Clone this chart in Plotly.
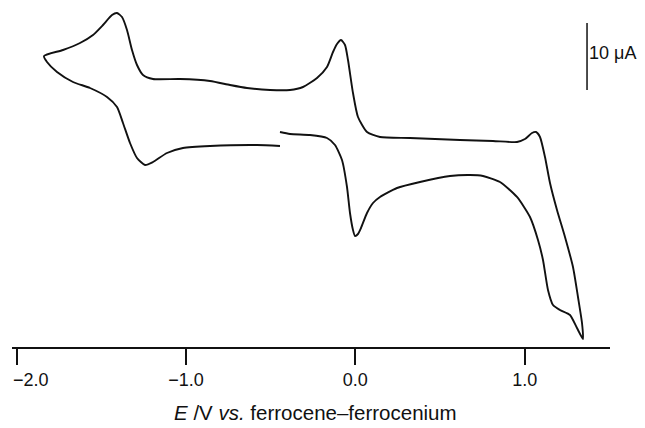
import plotly.graph_objects as go

# Cyclic voltammogram: potential (V vs Fc/Fc+) and current (uA, arbitrary zero)
E_V = [-0.4445, -0.3855, -0.2674, -0.1671, -0.1198, -0.0785, -0.0490, -0.0313, -0.0136, -0.0018,
       0.0159, 0.0336, 0.0691, 0.1045, 0.1458, 0.2462, 0.3819, 0.5590, 0.6771, 0.7538,
       0.8542, 0.9545, 1.0313, 1.0785, 1.1080, 1.1375, 1.1671, 1.2084, 1.2674, 1.3087,
       1.3442, 1.3383, 1.3146, 1.2851, 1.2379, 1.1907, 1.1494, 1.1198, 1.0903, 1.0667,
       1.0431, 1.0018, 0.9545, 0.8129, 0.6181, 0.3229, 0.1458, 0.0691, 0.0159, -0.0136,
       -0.0431, -0.0608, -0.0844, -0.1080, -0.1316, -0.1671, -0.2261, -0.3087, -0.3855, -0.5035,
       -0.6393, -0.7397, -0.8577, -1.0348, -1.1942, -1.2532, -1.2887, -1.3182, -1.3477, -1.3772,
       -1.4067, -1.4362, -1.4894, -1.5484, -1.6251, -1.7255, -1.8377, -1.8200, -1.7609, -1.6665,
       -1.5661, -1.4658, -1.4067, -1.3713, -1.3300, -1.2887, -1.2414, -1.1942, -1.1116, -1.0171,
       -0.8577, -0.5803, -0.4445]
I_uA = [1.194, 0.896, 0.746, 0.299, -0.746, -2.985, -7.015, -10.896, -13.433, -14.328,
        -14.030, -13.134, -10.896, -9.403, -8.507, -7.164, -6.269, -5.373, -5.224, -5.373,
        -6.269, -8.507, -11.493, -14.925, -17.910, -22.388, -24.627, -25.373, -26.119, -28.060,
        -29.701, -27.313, -23.433, -18.955, -14.478, -10.448, -6.418, -2.537, 0.448, 1.194,
        1.045, 0.149, -0.299, -0.149, 0.000, 0.299, 0.448, 1.194, 3.433, 7.015,
        11.940, 14.179, 14.925, 14.328, 13.134, 10.896, 9.254, 7.910, 7.463, 7.463,
        7.761, 8.209, 8.806, 9.104, 9.104, 9.701, 11.194, 13.433, 16.418, 18.358,
        18.955, 18.657, 17.164, 15.672, 14.478, 13.433, 12.537, 11.642, 10.149, 8.657,
        7.761, 6.418, 4.925, 2.537, -0.448, -2.687, -3.731, -3.284, -1.940, -1.194,
        -0.896, -0.746, -0.896]

tick_vals = [-2.0, -1.0, 0.0, 1.0]
tick_text = ["", "\u22121.0", "0.0", "1.0"]
first_tick_label = "\u22122.0"

scale_bar_E = [1.368, 1.368]
scale_bar_I = [17.46, 7.46]
scale_bar_label = "10 \u03bcA"

x_title = "<i>E</i> /V <i>vs.</i> ferrocene\u2013ferrocenium"

FONT = "Liberation Sans, Arial, Helvetica, sans-serif"
INK = "#111111"

fig = go.Figure()
fig.add_trace(go.Scatter(x=E_V, y=I_uA, mode="lines",
                         line=dict(color=INK, width=1.9, shape="spline", smoothing=0.6),
                         hoverinfo="skip", showlegend=False))
fig.add_trace(go.Scatter(x=scale_bar_E, y=scale_bar_I, mode="lines",
                         line=dict(color=INK, width=1.5),
                         hoverinfo="skip", showlegend=False))

fig.add_annotation(x=scale_bar_E[0], y=(scale_bar_I[0] + scale_bar_I[1]) / 2 + 0.5,
                   text=scale_bar_label, showarrow=False, xanchor="left", yanchor="middle",
                   xshift=0, font=dict(family=FONT, size=18, color=INK))
fig.add_annotation(x=tick_vals[0], y=0, yref="paper", text=first_tick_label, showarrow=False,
                   xanchor="center", yanchor="top", xshift=14, yshift=-21,
                   font=dict(family=FONT, size=18, color=INK))
fig.add_annotation(x=0.5075, xref="paper", y=0, yref="paper", text=x_title, showarrow=False,
                   xanchor="center", yanchor="middle", yshift=-65,
                   font=dict(family=FONT, size=20.5, color=INK))

fig.update_layout(
    width=637, height=420,
    margin=dict(l=4, r=35, t=0, b=81),
    paper_bgcolor="white", plot_bgcolor="white",
    font=dict(family=FONT, color=INK),
    showlegend=False,
    xaxis=dict(range=[-2.0266, 1.5036], showgrid=False, zeroline=False,
               showline=True, linecolor=INK, linewidth=1.5,
               ticks="outside", ticklen=16, tickwidth=1.5, tickcolor=INK,
               tickvals=tick_vals, ticktext=tick_text,
               tickfont=dict(family=FONT, size=18, color=INK)),
    yaxis=dict(range=[-30.896, 19.701], visible=False),
)

fig.write_html("out.html")
